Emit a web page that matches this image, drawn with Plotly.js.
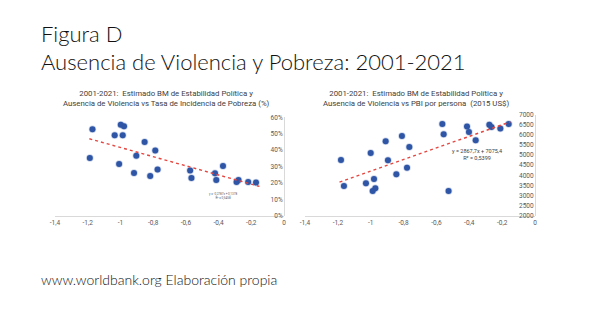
<!DOCTYPE html>
<html>
<head>
<meta charset="utf-8">
<script src="https://cdn.plot.ly/plotly-3.0.1.min.js"></script>
<style>
html,body{margin:0;padding:0;background:#fff;}
#chart{width:589px;height:331px;}
</style>
</head>
<body>
<div id="chart"></div>
<script>
// ---- Data ----
const leftX = [-1.187, -1.171, -1.035, -0.998, -0.978, -0.986, -1.008, -0.917, -0.903, -0.852, -0.787,
               -0.818, -0.773, -0.574, -0.566, -0.422, -0.414, -0.373, -0.290, -0.278, -0.219, -0.171];
const leftY = [0.353, 0.527, 0.491, 0.554, 0.546, 0.491, 0.316, 0.262, 0.367, 0.450, 0.398,
               0.243, 0.282, 0.276, 0.231, 0.260, 0.219, 0.304, 0.207, 0.219, 0.207, 0.203];
const rightX = [-1.181, -1.163, -1.029, -1.000, -0.980, -0.988, -0.972, -0.909, -0.895, -0.810, -0.844, -0.765,
                -0.779, -0.564, -0.556, -0.526, -0.414, -0.402, -0.361, -0.278, -0.265, -0.211, -0.160];
const rightY = [4756, 3469, 3601, 5102, 3815, 3221, 3353, 5680, 4739, 5944, 4046, 5399,
                4376, 6538, 6026, 3221, 6422, 6142, 5729, 6505, 6389, 6323, 6538];

// Trendline coefficients (from the chart's equations)
const leftSlope = -0.2787, leftIntercept = 0.1378;
const rightSlope = 2867.7, rightIntercept = 7075.4;
const trendX = [-1.19, -0.15];

// Tick labels
const xTickVals = [-1.4, -1.2, -1.0, -0.8, -0.6, -0.4, -0.2, 0];
const xTickText = ["-1,4", "-1,2", "-1", "-0,8", "-0,6", "-0,4", "-0,2", "0"];
const leftTickVals = [0, 0.1, 0.2, 0.3, 0.4, 0.5, 0.6];
const leftTickText = ["0%", "10%", "20%", "30%", "40%", "50%", "60%"];
const rightTickVals = [2000, 2500, 3000, 3500, 4000, 4500, 5000, 5500, 6000, 6500, 7000];
const rightTickText = ["2000", "2500", "3000", "3500", "4000", "4500", "5000", "5500", "6000", "6500", "7000"];

// Texts
const mainTitle1 = "Figura D";
const mainTitle2 = "Ausencia de Violencia y Pobreza: 2001-2021";
const leftTitle = "2001-2021:  Estimado BM de Estabilidad Política y<br>Ausencia de Violencia vs Tasa de Incidencia de Pobreza (%)";
const rightTitle = "2001-2021:  Estimado BM de Estabilidad Política y<br>Ausencia de Violencia vs PBI por persona  (2015 US$)";
const leftEq = "y = -0,2787x + 0,1378<br>R² = 0,5458";
const rightEq = "y = 2867,7x + 7075,4<br>R² = 0,5399";
const footer = "www.worldbank.org Elaboración propia";

const FONT = "Lato, 'Open Sans', sans-serif";
const SMALL = "Roboto, 'Liberation Sans', sans-serif";
const markerColor = "#2F56A6";
const trendColor = "#E5463F";
const tickColor = "#595959";
const axisLineColor = "#D9D9D9";

const traces = [
  {x: leftX, y: leftY, xaxis: 'x', yaxis: 'y', type: 'scatter', mode: 'markers',
   marker: {color: markerColor, size: 6, line: {color: 'rgba(47,86,166,0.25)', width: 1.5}}},
  {x: trendX, y: trendX.map(v => leftSlope * v + leftIntercept), xaxis: 'x', yaxis: 'y', type: 'scatter', mode: 'lines',
   line: {color: trendColor, width: 1.4, dash: 'dot'}},
  {x: rightX, y: rightY, xaxis: 'x2', yaxis: 'y2', type: 'scatter', mode: 'markers',
   marker: {color: markerColor, size: 6, line: {color: 'rgba(47,86,166,0.25)', width: 1.5}}},
  {x: trendX, y: trendX.map(v => rightSlope * v + rightIntercept), xaxis: 'x2', yaxis: 'y2', type: 'scatter', mode: 'lines',
   line: {color: trendColor, width: 1.4, dash: 'dot'}}
];

const W = 589, H = 331;
const px = v => v / W;
const py = v => 1 - v / H;

const xAxisBase = {
  tickvals: xTickVals, ticktext: xTickText, range: [-1.4, 0],
  showgrid: false, zeroline: false, showline: true, linecolor: axisLineColor, linewidth: 1, ticks: '',
  tickfont: {family: SMALL, size: 6.5, color: tickColor}, fixedrange: true
};
const yAxisBase = {
  side: 'left', anchor: 'free', showgrid: false, zeroline: false,
  showline: true, linecolor: axisLineColor, linewidth: 1, ticks: '',
  tickfont: {family: SMALL, size: 6.5, color: tickColor}, fixedrange: true
};

const layout = {
  width: W, height: H,
  margin: {l: 0, r: 0, t: 0, b: 0},
  paper_bgcolor: '#ffffff', plot_bgcolor: 'rgba(0,0,0,0)',
  showlegend: false,
  xaxis: Object.assign({}, xAxisBase, {domain: [px(55), px(284)], anchor: 'y'}),
  yaxis: Object.assign({}, yAxisBase, {domain: [py(216), py(117.3)], range: [0, 0.6], position: px(284),
    tickvals: leftTickVals, ticktext: leftTickText}),
  xaxis2: Object.assign({}, xAxisBase, {domain: [px(305), px(535)], anchor: 'y2'}),
  yaxis2: Object.assign({}, yAxisBase, {domain: [py(215.7), py(114.7)], range: [2000, 7000], position: px(535),
    tickvals: rightTickVals, ticktext: rightTickText}),
  annotations: [
    {text: mainTitle1, xref: 'paper', yref: 'paper', x: px(39), y: py(18), xanchor: 'left', yanchor: 'top',
     showarrow: false, font: {family: FONT, size: 22, weight: 300, color: '#111111'}},
    {text: mainTitle2, xref: 'paper', yref: 'paper', x: px(39), y: py(46), xanchor: 'left', yanchor: 'top',
     showarrow: false, font: {family: FONT, size: 22, weight: 300, color: '#111111'}},
    {text: leftTitle, xref: 'paper', yref: 'paper', x: px(166), y: py(87), xanchor: 'center', yanchor: 'top',
     showarrow: false, font: {family: SMALL, size: 7.8, color: '#404040'}},
    {text: rightTitle, xref: 'paper', yref: 'paper', x: px(416), y: py(87), xanchor: 'center', yanchor: 'top',
     showarrow: false, font: {family: SMALL, size: 7.8, color: '#404040'}},
    {text: leftEq, xref: 'paper', yref: 'paper', x: px(223), y: py(196), xanchor: 'center', yanchor: 'middle',
     showarrow: false, font: {family: SMALL, size: 3, color: '#595959'}},
    {text: rightEq, xref: 'paper', yref: 'paper', x: px(477), y: py(154), xanchor: 'center', yanchor: 'middle',
     showarrow: false, font: {family: SMALL, size: 5.5, color: '#404040'}},
    {text: footer, xref: 'paper', yref: 'paper', x: px(39), y: py(269), xanchor: 'left', yanchor: 'top',
     showarrow: false, font: {family: FONT, size: 14, weight: 300, color: '#111111'}}
  ]
};

Plotly.newPlot('chart', traces, layout, {displayModeBar: false, staticPlot: true});
</script>
</body>
</html>
